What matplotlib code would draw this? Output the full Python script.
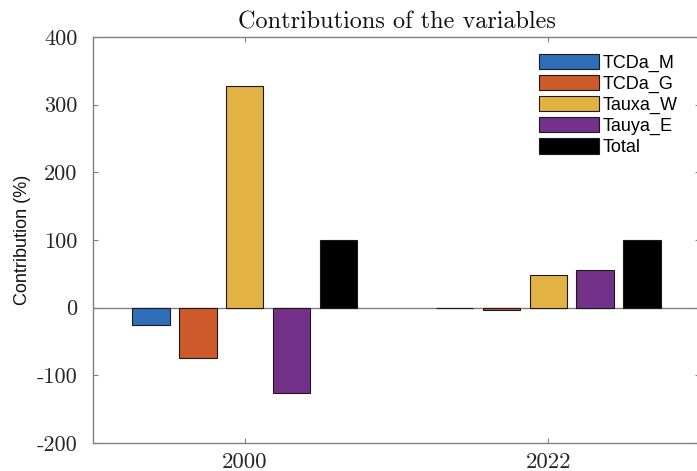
import numpy as np
import matplotlib
matplotlib.use("Agg")
import matplotlib.pyplot as plt
from matplotlib.patches import Patch

years = ["2000", "2022"]
variables = ["TCDa_M", "TCDa_G", "Tauxa_W", "Tauya_E", "Total"]
contrib = {
    "TCDa_M": [-26, -1],
    "TCDa_G": [-75, -3.5],
    "Tauxa_W": [328, 48],
    "Tauya_E": [-126, 55],
    "Total": [100, 100],
}
colors = ["#2f6fba", "#cc5a2a", "#e3b244", "#74318a", "#000000"]
yticks = [-200, -100, 0, 100, 200, 300, 400]
ytick_labels = ["-200", "-100", "0", "100", "200", "300", "400"]

serif = ["cmr10", "DejaVu Serif"]
sans = ["Liberation Sans", "DejaVu Sans"]
axis_gray = "#808080"

fig = plt.figure(figsize=(6.97, 4.71), dpi=100)
ax = fig.add_axes([93 / 697, 28 / 471, 607 / 697, 406 / 471])

x = np.arange(1, len(years) + 1)
step = 0.1546
width = 0.1234
for i, (name, c) in enumerate(zip(variables, colors)):
    ax.bar(x + (i - 2) * step, contrib[name], width=width, color=c,
           edgecolor="#1a1a1a", linewidth=0.8, zorder=3)

ax.axhline(0, color=axis_gray, linewidth=1.0, zorder=2)

ax.set_xlim(0.5, 2.5)
ax.set_ylim(-200, 400)
ax.set_xticks(x)
ax.set_xticklabels(years, fontfamily=serif, fontsize=16.5, color="#262626")
ax.set_yticks(yticks)
ax.set_yticklabels(ytick_labels, fontfamily=serif, fontsize=16, color="#262626")

for s in ax.spines.values():
    s.set_color(axis_gray)
    s.set_linewidth(1.0)
ax.tick_params(axis="both", direction="in", length=3.5, width=0.8,
               color=axis_gray, top=True, right=True)
ax.tick_params(axis="y", pad=11)
ax.tick_params(axis="x", pad=7)

ax.set_title("Contributions of the variables", fontfamily=serif,
             fontsize=17.5, pad=6, color="#111111")
ax.set_ylabel("Contribution (%)", fontfamily=sans, fontsize=13,
              color="#111111", labelpad=4)

handles = [Patch(facecolor=c, edgecolor="#1a1a1a", linewidth=0.8) for c in colors]
ax.legend(handles, variables, loc="upper left",
          bbox_to_anchor=(446 / 607, 1 - 17 / 406), frameon=False,
          prop={"family": sans, "size": 13},
          handlelength=3.3, handleheight=0.92, handletextpad=0.25,
          labelspacing=0.17, borderpad=0, borderaxespad=0)

fig.savefig("out.png", dpi=100)
